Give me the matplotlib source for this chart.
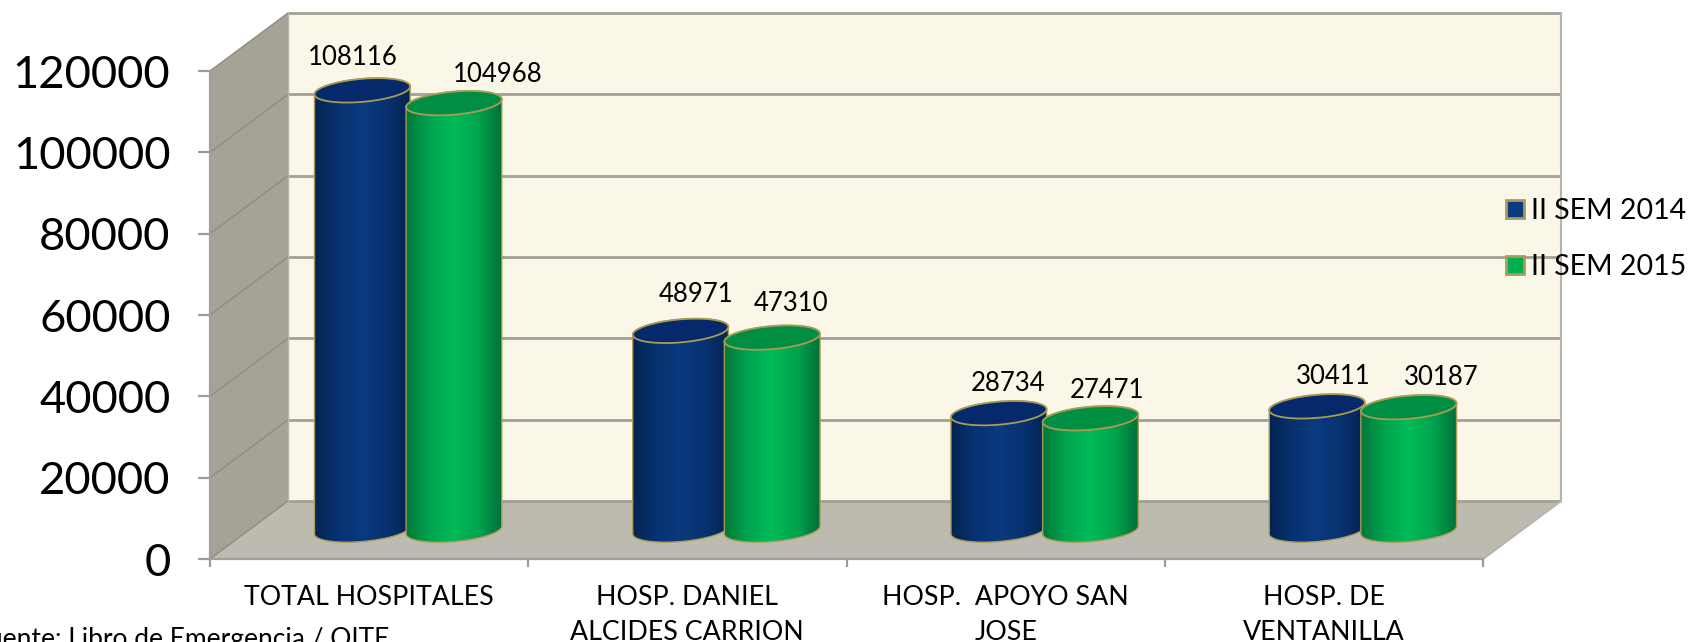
import numpy as np
import matplotlib
matplotlib.use("Agg")
import matplotlib.pyplot as plt
from matplotlib.patches import Polygon, PathPatch, Patch
from matplotlib.path import Path
from matplotlib.transforms import Affine2D, IdentityTransform

categories = ["TOTAL HOSPITALES", "HOSP. DANIEL\nALCIDES CARRION",
              "HOSP.  APOYO SAN\nJOSE", "HOSP. DE\nVENTANILLA"]
sem_2014 = [108116, 48971, 28734, 30411]
sem_2015 = [104968, 47310, 27471, 30187]
y_ticks = [0, 20000, 40000, 60000, 80000, 100000, 120000]
series_names = ["II SEM 2014", "II SEM 2015"]

# layout only
W, H = 1689, 642
FL, FR, FB, FT = 210, 1483, 559, 71
DX, DY = 78, 58
BAR_W, BAR_OFF = 0.30, 0.144
A, B, TILT = 48.0, 11.5, np.deg2rad(5)
label_off_2014 = [(-10, 33), (16, 36), (9, 30), (16, 30)]
label_off_2015 = [(44, 29), (19, 34), (17, 28), (33, 30)]
FONT = ["Lato", "DejaVu Sans"]
GOLD = "#a89c55"
GRID = "#a3a095"

plt.rcParams["font.family"] = FONT
fig = plt.figure(figsize=(W / 100, H / 100), dpi=100, facecolor="white")
ax = fig.add_axes([FL / W, 1 - FB / H, (FR - FL) / W, (FB - FT) / H])
ax.set_xlim(-0.5, 3.5)
ax.set_ylim(0, 120000)
ax.patch.set_visible(False)
ident = IdentityTransform()


def px(x, y, depth=0.0):
    p = ax.transData.transform(np.column_stack([np.atleast_1d(x), np.atleast_1d(y)]).astype(float))
    return p + np.array([DX, DY]) * depth


def poly(points, **kw):
    ax.add_patch(Polygon(points, closed=True, transform=ident, clip_on=False, **kw))


x0, x1 = ax.get_xlim()
ytop = ax.get_ylim()[1]
corner = lambda x, y, d: px(x, y, d)[0]

# walls
poly([corner(x0, 0, 1), corner(x1, 0, 1), corner(x1, ytop, 1), corner(x0, ytop, 1)],
     facecolor="#faf6e8", edgecolor="none", zorder=0.5)
poly([corner(x0, 0, 0), corner(x0, 0, 1), corner(x0, ytop, 1), corner(x0, ytop, 0)],
     facecolor="#a5a298", edgecolor="none", zorder=0.6)
poly([corner(x0, 0, 0), corner(x1, 0, 0), corner(x1, 0, 1), corner(x0, 0, 1)],
     facecolor="#bdbab0", edgecolor="none", zorder=0.6)

# gridlines on back and side wall
for v in y_ticks:
    a, b, c = corner(x0, v, 0), corner(x0, v, 1), corner(x1, v, 1)
    ax.plot([a[0], b[0]], [a[1], b[1]], color="#8f8c82", lw=1.0, transform=ident,
            clip_on=False, zorder=0.7)
    ax.plot([b[0], c[0]], [b[1], c[1]], color=GRID, lw=2.0, transform=ident,
            clip_on=False, zorder=0.7, solid_capstyle="butt")
r0, r1, r2 = corner(x1, 0, 0), corner(x1, 0, 1), corner(x1, ytop, 1)
ax.plot([r0[0], r1[0], r2[0]], [r0[1], r1[1], r2[1]], color="#b4b4b0", lw=1.5,
        transform=ident, clip_on=False, zorder=0.8)
l0, l1 = corner(x0, 0, 1), corner(x0, ytop, 1)
ax.plot([l0[0], l1[0]], [l0[1], l1[1]], color="#b8b6ac", lw=1.0, transform=ident,
        clip_on=False, zorder=0.8)


def ellipse(cx, cy, t):
    x = A * np.cos(t) * np.cos(TILT) - B * np.sin(t) * np.sin(TILT)
    y = A * np.cos(t) * np.sin(TILT) + B * np.sin(t) * np.cos(TILT)
    return np.column_stack([cx + x, cy + y])


t_right = np.arctan2(-B * np.sin(TILT), A * np.cos(TILT))
bar_shift = Affine2D().translate(DX / 2, DY / 2)
trans_bar = ax.transData + bar_shift


def cylinders(xs, vals, stops, cap, z):
    ramp = matplotlib.colors.LinearSegmentedColormap.from_list("c", stops)
    grad = np.linspace(0, 1, 256).reshape(1, -1)
    bars = ax.bar(xs, vals, BAR_W, color=stops[2], linewidth=0, transform=trans_bar, zorder=z)
    for rect, x, v in zip(bars, xs, vals):
        cx, cy = px(x, v, 0.5)[0]
        bx, by = px(x, 0, 0.5)[0]
        low = ellipse(bx, by, np.linspace(t_right + np.pi, t_right + 2 * np.pi, 60))
        up = ellipse(cx, cy, np.linspace(t_right, t_right + np.pi, 60))
        verts = np.vstack([low, up])
        clip = Path(np.vstack([verts, verts[:1]]), closed=True)
        ax.add_patch(PathPatch(clip, facecolor="none", edgecolor=GOLD, lw=1.0, transform=ident,
                               zorder=z + 0.02, clip_on=False))
        rect.set_clip_path(clip, ident)
        im = ax.imshow(grad, cmap=ramp, extent=(cx - A - 2, cx + A + 2, by - 20, cy + 20),
                       transform=ident, aspect="auto", zorder=z + 0.01, interpolation="bilinear")
        im.set_clip_path(clip, ident)
        im.set_clip_box(fig.bbox)
        capv = ellipse(cx, cy, np.linspace(0, 2 * np.pi, 90))
        ax.add_patch(Polygon(capv, closed=True, transform=ident, facecolor=cap,
                             edgecolor=GOLD, lw=1.3, zorder=z + 0.03, clip_on=False))


xpos = np.arange(len(categories))
blue = ["#03224f", "#08326f", "#0b3a80", "#08326f", "#03224f"]
green = ["#007238", "#00a34e", "#00bb58", "#00a34e", "#006c35"]
cylinders(xpos - BAR_OFF, sem_2014, blue, "#05296a", 2)
cylinders(xpos + BAR_OFF, sem_2015, green, "#008f42", 3)
ax.set_xlim(-0.5, 3.5)
ax.set_ylim(0, 120000)

# value labels
for xs, vals, offs in ((xpos - BAR_OFF, sem_2014, label_off_2014),
                       (xpos + BAR_OFF, sem_2015, label_off_2015)):
    for x, v, o in zip(xs, vals, offs):
        ax.annotate(str(v), (x, v), xycoords=trans_bar, xytext=o, textcoords="offset pixels",
                    ha="center", va="center", fontsize=18.5, color="black", zorder=6,
                    annotation_clip=False)

# axes
for s in ("top", "right"):
    ax.spines[s].set_visible(False)
for s in ("left", "bottom"):
    ax.spines[s].set_color("#a0a0a0")
    ax.spines[s].set_linewidth(1.6)
    ax.spines[s].set_zorder(1)
ax.set_yticks(y_ticks, [str(v) for v in y_ticks], fontsize=32.7)
ax.tick_params(axis="y", length=9, width=1.6, color="#9c9c9c", pad=19.5)
ax.set_xticks(xpos, categories, fontsize=19.3, linespacing=1.5)
ax.tick_params(axis="x", which="major", length=0, pad=18.5)
ax.set_xticks(np.arange(len(categories) + 1) - 0.5, minor=True)
ax.tick_params(axis="x", which="minor", length=6, width=1.6, color="#9c9c9c")

# legend
handles = [Patch(facecolor="#0b3a80", edgecolor=GOLD, lw=2),
           Patch(facecolor="#00b050", edgecolor=GOLD, lw=2)]
leg = ax.legend(handles, series_names, loc="upper left",
                bbox_to_anchor=(1506 / W, 1 - 198 / H), bbox_transform=fig.transFigure,
                frameon=False, fontsize=20.5, handlelength=0.62, handleheight=0.62,
                handletextpad=0.25, labelspacing=1.05, borderpad=0, borderaxespad=0)
leg.set_zorder(7)

fig.text(-27 / W, 1 - 639 / H, "Fuente: Libro de Emergencia / OITE", fontsize=19,
         ha="left", va="center", color="black")

fig.savefig("out.png", dpi=100, facecolor="white")
